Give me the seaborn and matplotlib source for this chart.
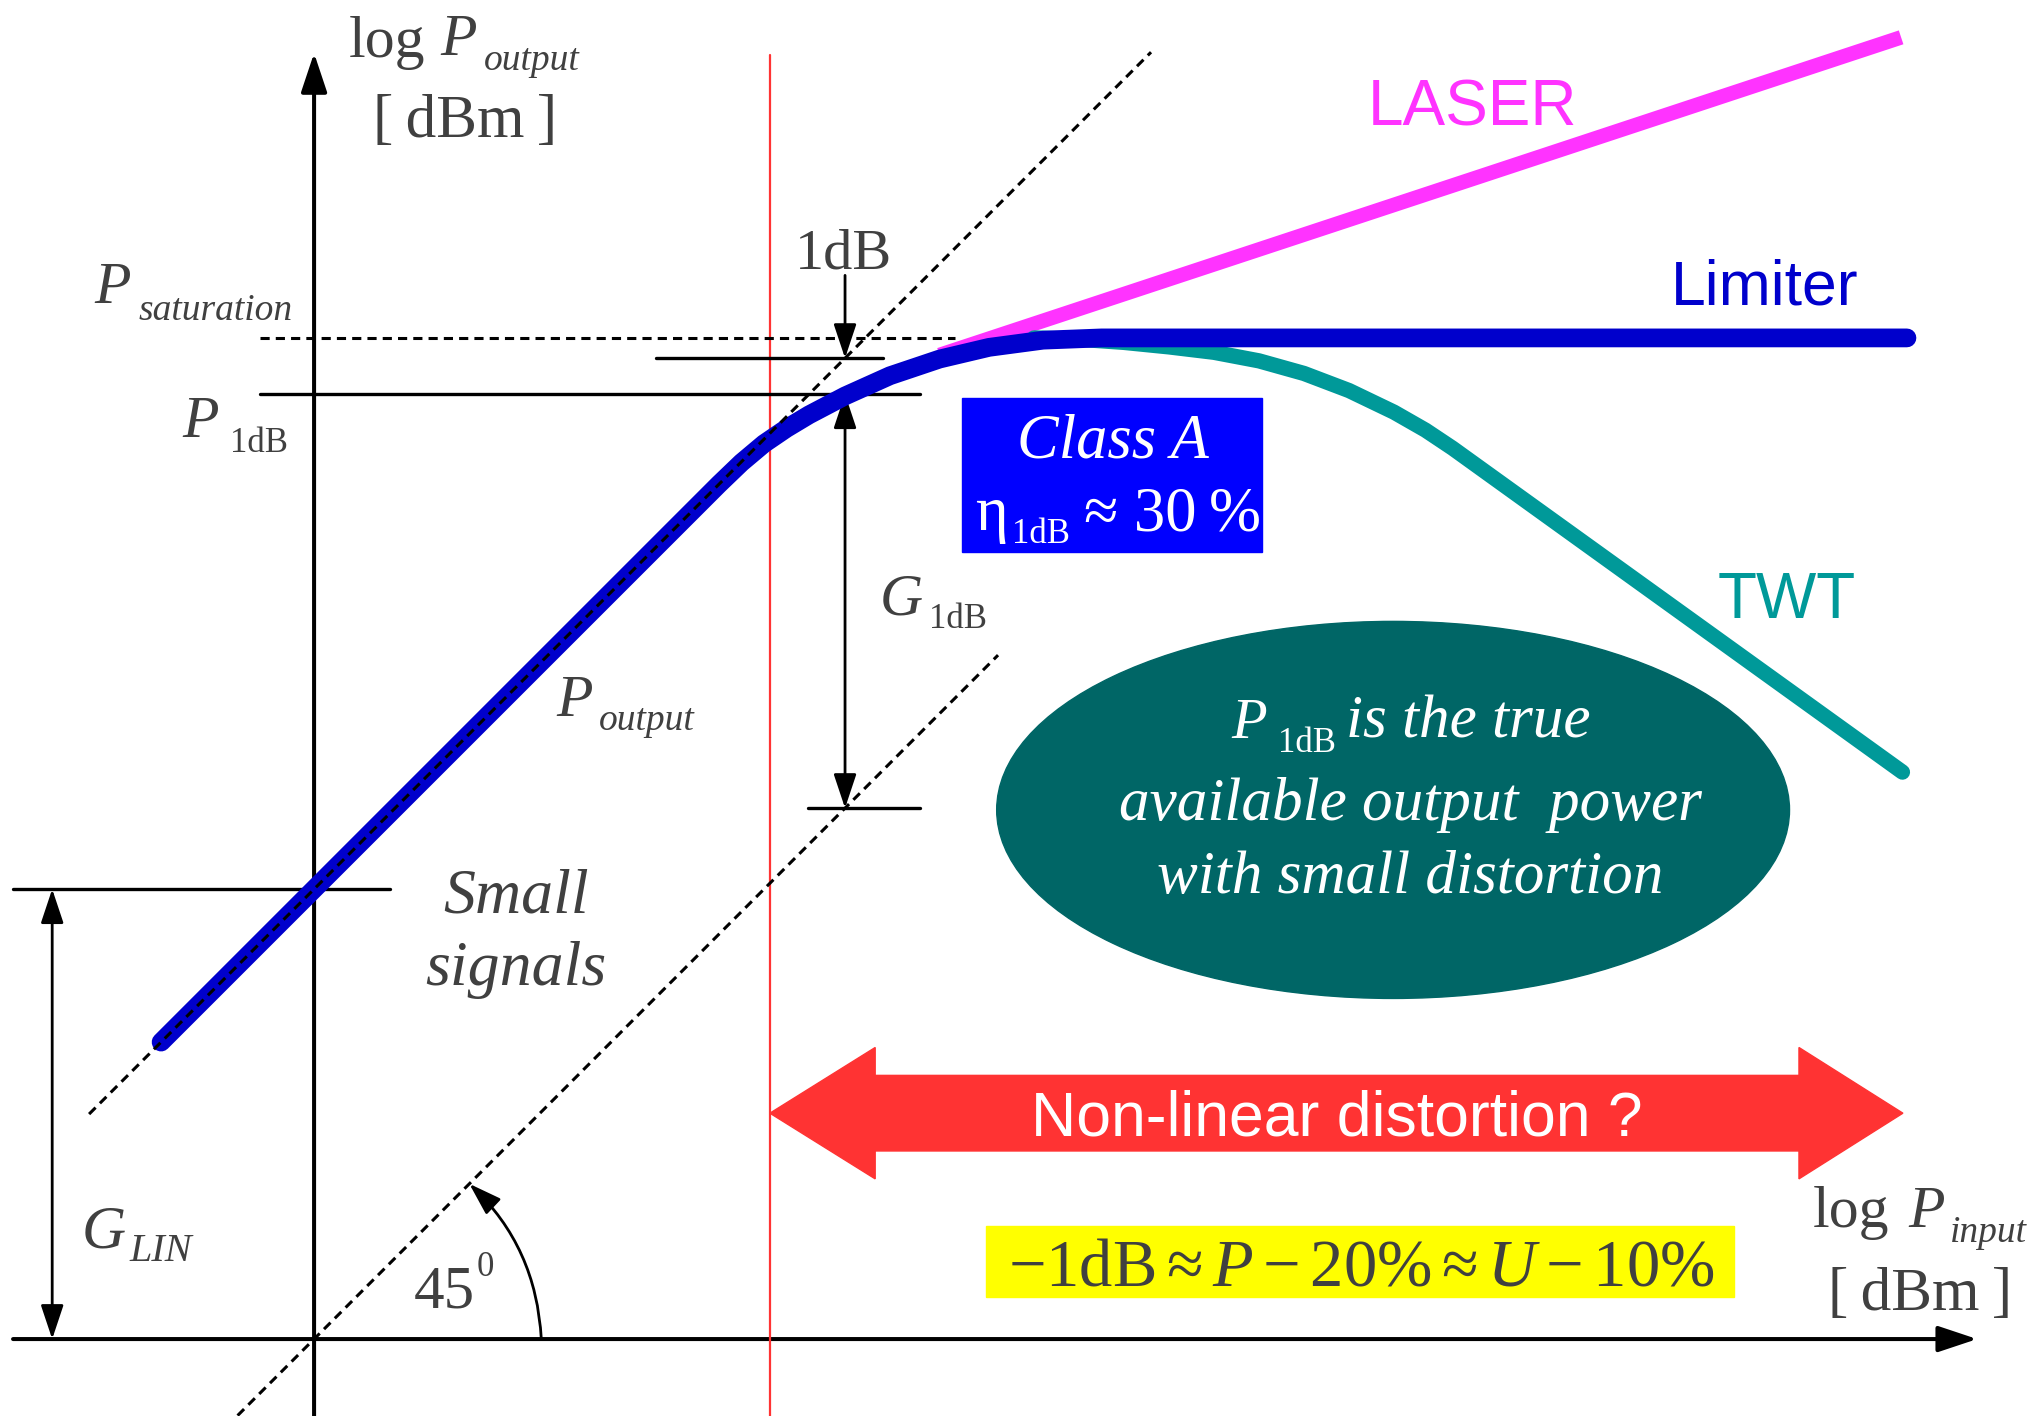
import matplotlib
matplotlib.use('Agg')
import matplotlib.pyplot as plt
import seaborn as sns
from matplotlib.patches import Ellipse, Rectangle, Polygon, FancyArrowPatch, ArrowStyle

# %%
# schematic levels (dBm)
G_LIN = 10.0
P_SAT = 22.25
P_1DB = 21.0
PIN_1DB = 11.8
P_LIN_1DB = 21.8      # linear extrapolation at PIN_1DB
PIN_NONLIN = 10.13    # red marker, start of non-linear region

# amplifier curves
limiter_in = [-3.4, 8.3, 9.0, 9.5, 10.0, 10.5, 11.0, 11.8, 12.8, 13.9, 15.0, 16.2, 17.5, 35.4]
limiter_out = [6.6, 18.3, 19.0, 19.48, 19.9, 20.24, 20.54, 20.96, 21.41, 21.78, 22.04, 22.2, 22.25, 22.25]
laser_in = [13.9, 35.27]
laser_out = [21.87, 28.93]
twt_in = [16.0, 17.0, 18.0, 19.0, 20.0, 21.0, 22.0, 23.0, 24.0, 24.7, 25.3, 35.3]
twt_out = [22.25, 22.22, 22.15, 22.05, 21.93, 21.74, 21.46, 21.08, 20.6, 20.2, 19.8, 12.6]

# dashed 45 degree guides
lin_in = [-5.0, 18.6]
lin_out = [5.0, 28.6]
unity_in = [-1.7, 15.2]
unity_out = [-1.7, 15.2]

GREY = '#404040'
BLUE = '#0000CC'
PINK = '#FF33FF'
TEAL = '#009999'
RED = '#FF3333'

# %%
sns.set_theme(style='white')
plt.rcParams['font.family'] = ['Liberation Serif', 'DejaVu Sans']
plt.rcParams['mathtext.fontset'] = 'custom'
plt.rcParams['mathtext.rm'] = 'Liberation Serif'
plt.rcParams['mathtext.it'] = 'Liberation Serif:italic'

fig = plt.figure(figsize=(20.37, 14.16), dpi=100)
ax = fig.add_axes([0, 0, 1, 1])
ax.set_xlim(-6.98, 38.29)
ax.set_ylim(-1.71, 29.76)
ax.axis('off')


def arrow(p0, p1, hl, hw, lw, style='-|>', **kw):
    a = FancyArrowPatch(p0, p1, arrowstyle=ArrowStyle(style, head_length=hl, head_width=hw),
                        mutation_scale=1, lw=lw, color='black', shrinkA=0, shrinkB=0, **kw)
    ax.add_patch(a)


def put(x, y, s, size, color=GREY, style='normal', family='Liberation Serif', ha='left'):
    ax.text(x, y, s, fontsize=size, color=color, style=style, family=family,
            ha=ha, va='baseline', zorder=10)


# axes with arrows
arrow((-6.69, 0), (36.96, 0), 24, 8, 2.9)
arrow((0, -1.71), (0, 28.58), 24, 8, 2.9)

# red marker line
ax.plot([PIN_NONLIN, PIN_NONLIN], [-1.71, 28.53], color=RED, lw=1.6, zorder=1)

# guide lines
dash = (0, (3, 2))
ax.plot([-1.2, 14.24], [P_SAT, P_SAT], color='black', lw=2.2, ls=dash, zorder=2)
ax.plot([-1.2, 13.47], [P_1DB, P_1DB], color='black', lw=2.4, zorder=2)
ax.plot([7.6, 12.64], [P_LIN_1DB, P_LIN_1DB], color='black', lw=2.4, zorder=2)
ax.plot([10.98, 13.47], [PIN_1DB, PIN_1DB], color='black', lw=2.4, zorder=2)
ax.plot([-6.69, 1.69], [G_LIN, G_LIN], color='black', lw=2.4, zorder=2)
sns.lineplot(x=unity_in, y=unity_out, ax=ax, color='black', lw=2.2, ls=dash, zorder=2,
             estimator=None, sort=False)

# 1dB and G arrows
arrow((PIN_1DB, 23.64), (PIN_1DB, P_LIN_1DB), 21, 7, 2.0)
arrow((PIN_1DB, P_1DB), (PIN_1DB, PIN_1DB), 21, 7, 2.0, style='<|-|>')
arrow((-5.82, 0), (-5.82, G_LIN), 21, 7, 2.0, style='<|-|>')
arrow((5.05, 0), (3.45, 3.45), 20, 6.5, 2.0, connectionstyle='arc3,rad=0.2')

# curves
sns.lineplot(x=laser_in, y=laser_out, ax=ax, color=PINK, lw=10.5, zorder=3,
             estimator=None, sort=False, solid_capstyle='butt')
sns.lineplot(x=twt_in, y=twt_out, ax=ax, color=TEAL, lw=11, zorder=3,
             estimator=None, sort=False, solid_capstyle='round', solid_joinstyle='round')
sns.lineplot(x=limiter_in, y=limiter_out, ax=ax, color=BLUE, lw=13.5, zorder=4,
             estimator=None, sort=False, solid_capstyle='round', solid_joinstyle='round')
sns.lineplot(x=lin_in, y=lin_out, ax=ax, color='black', lw=2.2, ls=dash, zorder=5,
             estimator=None, sort=False)

# boxes
ax.add_patch(Rectangle((14.4, 17.49), 6.67, 3.42, color='#0000FF', zorder=6))
ax.add_patch(Ellipse((23.98, 11.76), 17.62, 8.38, color='#006666', zorder=6))
ax.add_patch(Rectangle((14.93, 0.93), 16.63, 1.58, color='#FFFF00', zorder=6))

# red double arrow
y0, sh, hh = 5.02, 0.84, 1.46
xl, xlb, xrb, xr = PIN_NONLIN, 12.47, 33.0, 35.31
ax.add_patch(Polygon([(xl, y0), (xlb, y0 + hh), (xlb, y0 + sh), (xrb, y0 + sh), (xrb, y0 + hh),
                      (xr, y0), (xrb, y0 - hh), (xrb, y0 - sh), (xlb, y0 - sh), (xlb, y0 - hh)],
                     closed=True, color=RED, zorder=6))

# %%
# texts
put(0.76, 28.49, 'log', 43)
put(2.8, 28.53, 'P', 43, style='italic')
put(3.78, 28.2, 'output', 27, style='italic')
put(3.36, 26.71, '[\u2009dBm\u2009]', 44, ha='center')

put(-4.89, 23.02, 'P', 43, style='italic')
put(-3.89, 22.64, 'saturation', 27, style='italic')
put(-2.93, 20.04, 'P', 43, style='italic')
put(-1.87, 19.71, '1dB', 25)

put(PIN_1DB - 0.04, 23.8, '1dB', 42, ha='center')
put(12.58, 16.11, 'G', 43, style='italic')
put(13.67, 15.8, '1dB', 25)

put(5.38, 13.84, 'P', 43, style='italic')
put(6.33, 13.53, 'output', 27, style='italic')
put(4.49, 9.47, 'Small', 46, style='italic', ha='center')
put(4.49, 7.87, 'signals', 46, style='italic', ha='center')

put(-5.16, 2.04, 'G', 44, style='italic')
put(-4.11, 1.73, 'LIN', 29, style='italic')
put(2.22, 0.71, '45', 44)
put(3.62, 1.4, '0', 25)

put(23.42, 26.96, 'LASER', 46, color=PINK, family='Liberation Sans')
put(30.16, 23.0, 'Limiter', 45, color=BLUE, family='Liberation Sans')
put(31.2, 16.02, 'TWT', 46, color=TEAL, family='Liberation Sans')

put(17.76, 19.6, 'Class A', 45, color='white', style='italic', ha='center')
put(14.69, 17.98, 'η', 45, color='white')
put(15.51, 17.69, '1dB', 25, color='white')
put(17.11, 17.98, '≈ 30\u2009%', 45, color='white')

put(20.38, 13.36, 'P', 42, color='white', style='italic')
put(21.42, 13.04, '1dB', 25, color='white')
put(22.93, 13.36, 'is the true', 44, color='white', style='italic')
put(24.36, 11.53, 'available output  power', 44, color='white', style='italic', ha='center')
put(24.36, 9.91, 'with small distortion', 44, color='white', style='italic', ha='center')

put(22.73, 4.53, 'Non-linear distortion ?', 45, color='white', family='Liberation Sans', ha='center')
put(23.27, 1.2, r'$-1\mathrm{dB}\approx P-20\%\approx U-10\%$', 48, ha='center')

put(33.31, 2.49, 'log', 43)
put(35.42, 2.49, 'P', 43, style='italic')
put(36.36, 2.16, 'input', 27, style='italic')
put(35.69, 0.64, '[\u2009dBm\u2009]', 44, ha='center')

fig.savefig('out.png', dpi=100)
